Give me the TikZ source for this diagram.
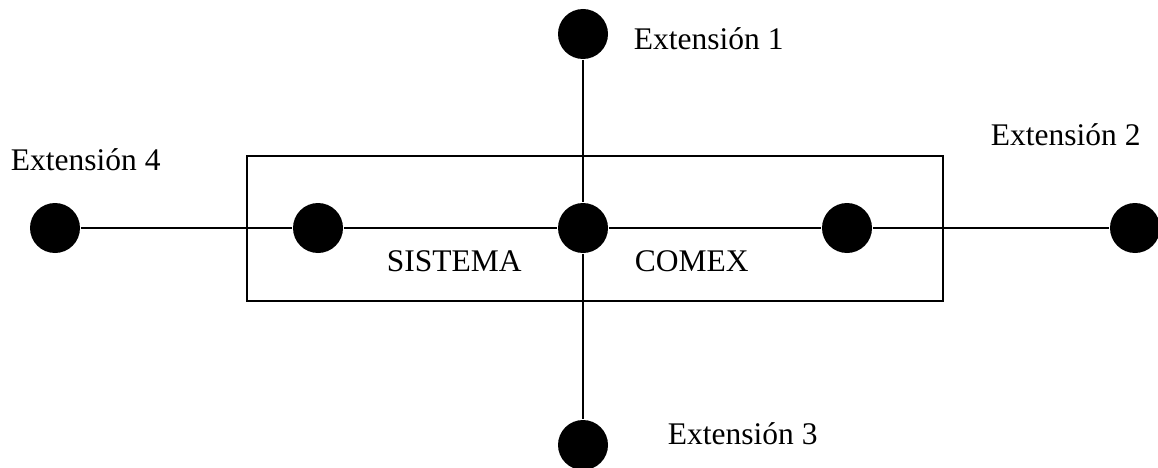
\documentclass[tikz,border=0pt]{standalone}
\usepackage{fontspec}
\setmainfont{Liberation Serif}
\begin{document}
\begin{tikzpicture}[x=1pt,y=-1pt,
  line width=1.8pt,
  ext/.style={circle,fill=black,draw=none,minimum size=50pt,inner sep=0pt},
  lbl/.style={anchor=base west,inner sep=0pt,font=\fontsize{31.5}{38}\selectfont},
  frame/.style={draw,line width=1.8pt,minimum width=696pt,minimum height=145pt,inner sep=0pt}]
\useasboundingbox (0,0) rectangle (1158,468);

% system box
\node[frame] (sys) at (595,228.5) {};

% extension points
\node[ext] (c)  at (583,228) {};
\node[ext] (s1) at (318,228) {};
\node[ext] (s2) at (847,228) {};
\node[ext] (e1) at (583,34) {};
\node[ext] (e2) at (1135,228) {};
\node[ext] (e3) at (583,445) {};
\node[ext] (e4) at (55,228) {};

% links
\draw (e4) -- (s1);
\draw (s1) -- (c);
\draw (c) -- (s2);
\draw (s2) -- (e2);
\draw (e1) -- (c);
\draw (c) -- (e3);

% labels
\node[lbl] (t1) at (633,50) {Extensión 1};
\node[lbl] (t2) at (990,146) {Extensión 2};
\node[lbl] (t3) at (667,444) {Extensión 3};
\node[lbl] (t4) at (10,170) {Extensión 4};
\node[lbl] (ts) at (386,271) {SISTEMA};
\node[lbl] (tc) at (634,271) {COMEX};
\end{tikzpicture}
\end{document}
